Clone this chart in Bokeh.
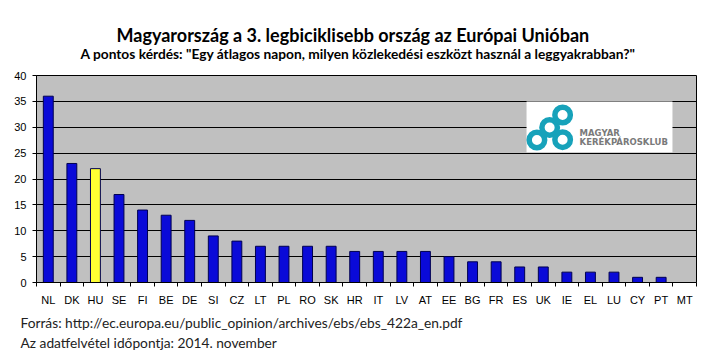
import numpy as np
from bokeh.plotting import figure
from bokeh.models import Range1d, FixedTicker, Title
from bokeh.core.properties import value
from bokeh.embed import file_html
from bokeh.resources import INLINE

countries = ["NL", "DK", "HU", "SE", "FI", "BE", "DE", "SI", "CZ", "LT", "PL", "RO", "SK", "HR",
             "IT", "LV", "AT", "EE", "BG", "FR", "ES", "UK", "IE", "EL", "LU", "CY", "PT", "MT"]
values = [36, 23, 22, 17, 14, 13, 12, 9, 8, 7, 7, 7, 7, 6,
          6, 6, 6, 5, 4, 4, 3, 3, 2, 2, 2, 1, 1, 0]
highlight = "HU"
y_ticks = [0, 5, 10, 15, 20, 25, 30, 35, 40]

title_text = "Magyarország a 3. legbiciklisebb ország az Európai Unióban"
subtitle_text = 'A pontos kérdés: "Egy átlagos napon, milyen közlekedési eszközt használ a leggyakrabban?"'
footer1 = "Forrás: http://ec.europa.eu/public_opinion/archives/ebs/ebs_422a_en.pdf"
footer2 = "Az adatfelvétel időpontja: 2014. november"
logo_line1 = "MAGYAR"
logo_line2 = "KERÉKPÁROSKLUB"

n = len(countries)
xs = np.arange(n) + 0.5
colors = ["#ffff33" if c == highlight else "#0a0ad8" for c in countries]

p = figure(width=707, height=357, output_backend="svg", toolbar_location=None,
           x_range=Range1d(0, n), y_range=Range1d(0, 40),
           min_border_left=36, min_border_right=11, min_border_top=75, min_border_bottom=75)
p.background_fill_color = "#c0c0c0"
p.border_fill_color = "white"
p.outline_line_color = "black"
p.outline_line_width = 1
p.outline_line_alpha = 1

p.xgrid.visible = False
p.ygrid.ticker = FixedTicker(ticks=y_ticks)
p.ygrid.grid_line_color = "black"
p.ygrid.grid_line_width = 1
p.ygrid.grid_line_alpha = 1

p.vbar(x=xs, top=values, width=0.42, fill_color=colors, line_color="#000050", line_width=1)

# logo
teal = "#17a2ba"
p.quad(left=[20.79], right=[26.98], bottom=[25.15], top=[35], fill_color="white", line_color=None)
p.scatter(x=[21.23, 21.77, 22.32, 22.32], y=[27.54, 29.95, 32.37, 27.6], size=15.5,
          marker="circle", fill_color=None, line_color=teal, line_width=5.5)
p.text(x=[23.04, 23.04], y=[28.8, 27.1], text=[logo_line1, logo_line2],
       text_font_size="8.5px", text_font_style="bold", text_color="#7a7a7a",
       text_baseline="middle", text_align="left", text_font=value("DejaVu Sans"))

# axes
ax = p.xaxis[0]
ax.ticker = FixedTicker(ticks=list(xs), minor_ticks=list(range(n + 1)))
ax.major_label_overrides = {float(x): c for x, c in zip(xs, countries)}
ax.major_tick_line_color = None
ax.minor_tick_line_color = "black"
ax.minor_tick_out = 4
ax.minor_tick_in = 0
ax.axis_line_color = "black"
ax.major_label_standoff = 5
ax.major_label_text_font = "Liberation Sans"
ax.major_label_text_font_size = "11px"
ax.major_label_text_color = "black"

ay = p.yaxis[0]
ay.ticker = FixedTicker(ticks=y_ticks)
ay.major_tick_out = 4
ay.major_tick_in = 0
ay.major_tick_line_color = "black"
ay.minor_tick_line_color = None
ay.axis_line_color = "black"
ay.major_label_standoff = 6
ay.major_label_text_font = "Liberation Sans"
ay.major_label_text_font_size = "11px"
ay.major_label_text_color = "black"

# titles (later-added go farther from the frame)
p.add_layout(Title(text=subtitle_text, align="left", offset=44, standoff=28,
                   text_font="Lato", text_font_style="bold", text_font_size="13.75px",
                   text_color="black"), "above")
p.add_layout(Title(text=title_text, align="left", offset=80, standoff=-35,
                   text_font="Lato", text_font_style="bold", text_font_size="18px",
                   text_color="black"), "above")
# footer
p.add_layout(Title(text=footer1, align="left", offset=-16, standoff=6,
                   text_font="Lato", text_font_style="normal", text_font_size="13.75px",
                   text_color="#222222"), "below")
p.add_layout(Title(text=footer2, align="left", offset=-16, standoff=-3,
                   text_font="Lato", text_font_style="normal", text_font_size="13.75px",
                   text_color="#222222"), "below")

open("out.html", "w").write(file_html(p, INLINE))
